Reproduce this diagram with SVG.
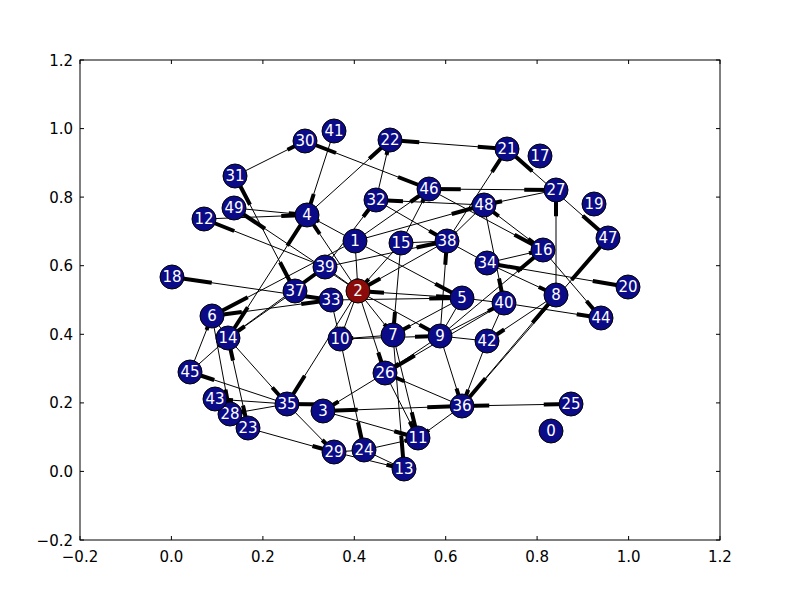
<svg xmlns="http://www.w3.org/2000/svg" width="800" height="600" viewBox="0 0 800 600">
<style>
.e{fill:none;stroke:#000;stroke-width:1}
.a{fill:none;stroke:#000;stroke-width:4;stroke-dasharray:0 3 1}
.n circle{fill:#0b0b88;stroke:#000;stroke-width:1}
.n text{fill:#fff;font-family:"DejaVu Sans",sans-serif;font-size:15px;text-anchor:middle}
.tk{stroke:#000;stroke-width:1}
.lb{font-family:"DejaVu Sans",sans-serif;font-size:15px;fill:#000}
</style>
<rect width="800" height="600" fill="#fff"/>
<rect x="80" y="60" width="640" height="480" fill="#fff" stroke="#000" stroke-width="1"/>
<g class="tk">
<path d="M80 540v-4M171.4 540v-4M262.9 540v-4M354.3 540v-4M445.7 540v-4M537.1 540v-4M628.6 540v-4M720 540v-4M80 60v4M171.4 60v4M262.9 60v4M354.3 60v4M445.7 60v4M537.1 60v4M628.6 60v4M720 60v4"/>
<path d="M80 540h4M80 471.4h4M80 402.9h4M80 334.3h4M80 265.7h4M80 197.1h4M80 128.6h4M80 60h4M720 540h-4M720 471.4h-4M720 402.9h-4M720 334.3h-4M720 265.7h-4M720 197.1h-4M720 128.6h-4M720 60h-4"/>
</g>
<g class="lb" text-anchor="middle">
<text x="80" y="562">−0.2</text><text x="171.4" y="562">0.0</text><text x="262.9" y="562">0.2</text><text x="354.3" y="562">0.4</text><text x="445.7" y="562">0.6</text><text x="537.1" y="562">0.8</text><text x="628.6" y="562">1.0</text><text x="720" y="562">1.2</text>
</g>
<g class="lb" text-anchor="end">
<text x="73" y="545.5">−0.2</text><text x="73" y="476.9">0.0</text><text x="73" y="408.4">0.2</text><text x="73" y="339.8">0.4</text><text x="73" y="271.2">0.6</text><text x="73" y="202.6">0.8</text><text x="73" y="134.1">1.0</text><text x="73" y="65.5">1.2</text>
</g>
<g id="connectors">
<g class="e">
<path d="M235 176L305 141"/><path d="M334 131L307 215"/><path d="M305 141L429 189"/><path d="M390 140L507 149"/><path d="M307 215L390 140"/><path d="M376 200L390 140"/><path d="M447 241L507 149"/><path d="M429 189L556 190"/><path d="M556 190L484 205"/><path d="M556 295L556 190"/><path d="M507 149L608 238"/><path d="M462 406L608 238"/><path d="M440 336L543 250"/><path d="M487 263L628 287"/><path d="M487 263L556 295"/><path d="M543 250L601 318"/><path d="M504 303L601 318"/><path d="M556 295L487 341"/><path d="M462 406L556 295"/><path d="M484 205L504 303"/><path d="M462 298L504 303"/><path d="M504 303L385 373"/><path d="M358 291L462 298"/><path d="M331 300L462 298"/><path d="M358 291L440 336"/><path d="M358 291L385 373"/><path d="M355 241L358 291"/><path d="M325 267L358 291"/><path d="M401 243L358 291"/><path d="M447 241L358 291"/><path d="M331 300L172 277"/><path d="M355 241L212 316"/><path d="M331 300L212 316"/><path d="M212 316L230 414"/><path d="M228 338L248 428"/><path d="M295 291L228 338"/><path d="M295 291L235 176"/><path d="M358 291L234 208"/><path d="M325 267L204 219"/><path d="M234 208L307 215"/><path d="M204 219L307 215"/><path d="M307 215L228 338"/><path d="M190 372L212 316"/><path d="M355 241L307 215"/><path d="M355 241L462 298"/><path d="M358 291L307 215"/><path d="M484 205L376 200"/><path d="M376 200L447 241"/><path d="M325 267L376 200"/><path d="M355 241L429 189"/><path d="M401 243L429 189"/><path d="M355 241L484 205"/><path d="M447 241L487 263"/><path d="M440 336L447 241"/><path d="M401 243L393 335"/><path d="M401 243L447 241"/><path d="M325 267L447 241"/><path d="M331 300L340 339"/><path d="M393 335L340 339"/><path d="M340 339L440 336"/><path d="M462 298L393 335"/><path d="M440 336L462 298"/><path d="M440 336L487 341"/><path d="M440 336L504 303"/><path d="M440 336L462 406"/><path d="M487 341L462 406"/><path d="M571 404L462 406"/><path d="M323 411L462 406"/><path d="M462 406L385 373"/><path d="M462 406L418 438"/><path d="M385 373L323 411"/><path d="M323 411L418 438"/><path d="M340 339L364 450"/><path d="M364 450L418 438"/><path d="M364 450L404 469"/><path d="M334 452L404 469"/><path d="M334 452L364 450"/><path d="M248 428L334 452"/><path d="M287 404L334 452"/><path d="M287 404L230 414"/><path d="M287 404L215 399"/><path d="M287 404L190 372"/><path d="M228 338L287 404"/><path d="M358 291L287 404"/><path d="M393 335L404 469"/><path d="M385 373L418 438"/><path d="M429 189L543 250"/><path d="M484 205L543 250"/><path d="M487 263L543 250"/><path d="M228 338L325 267"/><path d="M212 316L228 338"/><path d="M190 372L228 338"/><path d="M358 291L393 335"/><path d="M358 291L340 339"/><path d="M484 205L447 241"/><path d="M487 341L504 303"/><path d="M393 335L418 438"/><path d="M440 336L385 373"/>
</g>
<g class="a">
<path pathLength="4" d="M235 176L305 141"/><path pathLength="4" d="M334 131L307 215"/><path pathLength="4" d="M305 141L429 189"/><path pathLength="4" d="M429 189L305 141"/><path pathLength="4" d="M390 140L507 149"/><path pathLength="4" d="M507 149L390 140"/><path pathLength="4" d="M307 215L390 140"/><path pathLength="4" d="M376 200L390 140"/><path pathLength="4" d="M447 241L507 149"/><path pathLength="4" d="M429 189L556 190"/><path pathLength="4" d="M556 190L429 189"/><path pathLength="4" d="M556 190L484 205"/><path pathLength="4" d="M556 295L556 190"/><path pathLength="4" d="M507 149L608 238"/><path pathLength="4" d="M608 238L507 149"/><path pathLength="4" d="M462 406L608 238"/><path pathLength="4" d="M440 336L543 250"/><path pathLength="4" d="M487 263L628 287"/><path pathLength="4" d="M628 287L487 263"/><path pathLength="4" d="M487 263L556 295"/><path pathLength="4" d="M543 250L601 318"/><path pathLength="4" d="M504 303L601 318"/><path pathLength="4" d="M556 295L487 341"/><path pathLength="4" d="M462 406L556 295"/><path pathLength="4" d="M556 295L462 406"/><path pathLength="4" d="M484 205L504 303"/><path pathLength="4" d="M462 298L504 303"/><path pathLength="4" d="M504 303L385 373"/><path pathLength="4" d="M358 291L462 298"/><path pathLength="4" d="M462 298L358 291"/><path pathLength="4" d="M331 300L462 298"/><path pathLength="4" d="M358 291L440 336"/><path pathLength="4" d="M358 291L385 373"/><path pathLength="4" d="M355 241L358 291"/><path pathLength="4" d="M325 267L358 291"/><path pathLength="4" d="M401 243L358 291"/><path pathLength="4" d="M447 241L358 291"/><path pathLength="4" d="M331 300L172 277"/><path pathLength="4" d="M172 277L331 300"/><path pathLength="4" d="M355 241L212 316"/><path pathLength="4" d="M331 300L212 316"/><path pathLength="4" d="M212 316L331 300"/><path pathLength="4" d="M212 316L230 414"/><path pathLength="4" d="M228 338L248 428"/><path pathLength="4" d="M248 428L228 338"/><path pathLength="4" d="M295 291L228 338"/><path pathLength="4" d="M295 291L235 176"/><path pathLength="4" d="M235 176L295 291"/><path pathLength="4" d="M358 291L234 208"/><path pathLength="4" d="M325 267L204 219"/><path pathLength="4" d="M234 208L307 215"/><path pathLength="4" d="M204 219L307 215"/><path pathLength="4" d="M307 215L228 338"/><path pathLength="4" d="M228 338L307 215"/><path pathLength="4" d="M190 372L212 316"/><path pathLength="4" d="M355 241L307 215"/><path pathLength="4" d="M355 241L462 298"/><path pathLength="4" d="M358 291L307 215"/><path pathLength="4" d="M484 205L376 200"/><path pathLength="4" d="M376 200L447 241"/><path pathLength="4" d="M325 267L376 200"/><path pathLength="4" d="M355 241L429 189"/><path pathLength="4" d="M401 243L429 189"/><path pathLength="4" d="M355 241L484 205"/><path pathLength="4" d="M447 241L487 263"/><path pathLength="4" d="M440 336L447 241"/><path pathLength="4" d="M401 243L393 335"/><path pathLength="4" d="M401 243L447 241"/><path pathLength="4" d="M325 267L447 241"/><path pathLength="4" d="M331 300L340 339"/><path pathLength="4" d="M393 335L340 339"/><path pathLength="4" d="M340 339L440 336"/><path pathLength="4" d="M462 298L393 335"/><path pathLength="4" d="M440 336L462 298"/><path pathLength="4" d="M440 336L487 341"/><path pathLength="4" d="M440 336L504 303"/><path pathLength="4" d="M440 336L462 406"/><path pathLength="4" d="M487 341L462 406"/><path pathLength="4" d="M571 404L462 406"/><path pathLength="4" d="M462 406L571 404"/><path pathLength="4" d="M323 411L462 406"/><path pathLength="4" d="M462 406L323 411"/><path pathLength="4" d="M462 406L385 373"/><path pathLength="4" d="M462 406L418 438"/><path pathLength="4" d="M385 373L323 411"/><path pathLength="4" d="M323 411L418 438"/><path pathLength="4" d="M340 339L364 450"/><path pathLength="4" d="M364 450L418 438"/><path pathLength="4" d="M364 450L404 469"/><path pathLength="4" d="M334 452L404 469"/><path pathLength="4" d="M334 452L364 450"/><path pathLength="4" d="M248 428L334 452"/><path pathLength="4" d="M287 404L334 452"/><path pathLength="4" d="M287 404L230 414"/><path pathLength="4" d="M287 404L215 399"/><path pathLength="4" d="M287 404L190 372"/><path pathLength="4" d="M228 338L287 404"/><path pathLength="4" d="M358 291L287 404"/><path pathLength="4" d="M462 406L287 404"/><path pathLength="4" d="M393 335L404 469"/><path pathLength="4" d="M385 373L418 438"/><path pathLength="4" d="M429 189L543 250"/><path pathLength="4" d="M484 205L543 250"/><path pathLength="4" d="M543 250L484 205"/><path pathLength="4" d="M487 263L543 250"/><path pathLength="4" d="M228 338L325 267"/><path pathLength="4" d="M212 316L228 338"/><path pathLength="4" d="M190 372L228 338"/><path pathLength="4" d="M358 291L393 335"/><path pathLength="4" d="M358 291L340 339"/><path pathLength="4" d="M484 205L447 241"/><path pathLength="4" d="M487 341L504 303"/><path pathLength="4" d="M393 335L418 438"/><path pathLength="4" d="M440 336L385 373"/>
</g>
</g>
<g class="n">
<g id="n0"><circle cx="551" cy="431" r="12"/><text x="551" y="436">0</text></g>
<g id="n1"><circle cx="355" cy="241" r="12"/><text x="355" y="246">1</text></g>
<g id="n2"><circle cx="358" cy="291" r="12" style="fill:#8b0a0a"/><text x="358" y="296">2</text></g>
<g id="n3"><circle cx="323" cy="411" r="12"/><text x="323" y="416">3</text></g>
<g id="n4"><circle cx="307" cy="215" r="12"/><text x="307" y="220">4</text></g>
<g id="n5"><circle cx="462" cy="298" r="12"/><text x="462" y="303">5</text></g>
<g id="n6"><circle cx="212" cy="316" r="12"/><text x="212" y="321">6</text></g>
<g id="n7"><circle cx="393" cy="335" r="12"/><text x="393" y="340">7</text></g>
<g id="n8"><circle cx="556" cy="295" r="12"/><text x="556" y="300">8</text></g>
<g id="n9"><circle cx="440" cy="336" r="12"/><text x="440" y="341">9</text></g>
<g id="n10"><circle cx="340" cy="339" r="12"/><text x="340" y="344">10</text></g>
<g id="n11"><circle cx="418" cy="438" r="12"/><text x="418" y="443">11</text></g>
<g id="n12"><circle cx="204" cy="219" r="12"/><text x="204" y="224">12</text></g>
<g id="n13"><circle cx="404" cy="469" r="12"/><text x="404" y="474">13</text></g>
<g id="n14"><circle cx="228" cy="338" r="12"/><text x="228" y="343">14</text></g>
<g id="n15"><circle cx="401" cy="243" r="12"/><text x="401" y="248">15</text></g>
<g id="n16"><circle cx="543" cy="250" r="12"/><text x="543" y="255">16</text></g>
<g id="n17"><circle cx="540" cy="156" r="12"/><text x="540" y="161">17</text></g>
<g id="n18"><circle cx="172" cy="277" r="12"/><text x="172" y="282">18</text></g>
<g id="n19"><circle cx="594" cy="204" r="12"/><text x="594" y="209">19</text></g>
<g id="n20"><circle cx="628" cy="287" r="12"/><text x="628" y="292">20</text></g>
<g id="n21"><circle cx="507" cy="149" r="12"/><text x="507" y="154">21</text></g>
<g id="n22"><circle cx="390" cy="140" r="12"/><text x="390" y="145">22</text></g>
<g id="n23"><circle cx="248" cy="428" r="12"/><text x="248" y="433">23</text></g>
<g id="n24"><circle cx="364" cy="450" r="12"/><text x="364" y="455">24</text></g>
<g id="n25"><circle cx="571" cy="404" r="12"/><text x="571" y="409">25</text></g>
<g id="n26"><circle cx="385" cy="373" r="12"/><text x="385" y="378">26</text></g>
<g id="n27"><circle cx="556" cy="190" r="12"/><text x="556" y="195">27</text></g>
<g id="n28"><circle cx="230" cy="414" r="12"/><text x="230" y="419">28</text></g>
<g id="n29"><circle cx="334" cy="452" r="12"/><text x="334" y="457">29</text></g>
<g id="n30"><circle cx="305" cy="141" r="12"/><text x="305" y="146">30</text></g>
<g id="n31"><circle cx="235" cy="176" r="12"/><text x="235" y="181">31</text></g>
<g id="n32"><circle cx="376" cy="200" r="12"/><text x="376" y="205">32</text></g>
<g id="n33"><circle cx="331" cy="300" r="12"/><text x="331" y="305">33</text></g>
<g id="n34"><circle cx="487" cy="263" r="12"/><text x="487" y="268">34</text></g>
<g id="n35"><circle cx="287" cy="404" r="12"/><text x="287" y="409">35</text></g>
<g id="n36"><circle cx="462" cy="406" r="12"/><text x="462" y="411">36</text></g>
<g id="n37"><circle cx="295" cy="291" r="12"/><text x="295" y="296">37</text></g>
<g id="n38"><circle cx="447" cy="241" r="12"/><text x="447" y="246">38</text></g>
<g id="n39"><circle cx="325" cy="267" r="12"/><text x="325" y="272">39</text></g>
<g id="n40"><circle cx="504" cy="303" r="12"/><text x="504" y="308">40</text></g>
<g id="n41"><circle cx="334" cy="131" r="12"/><text x="334" y="136">41</text></g>
<g id="n42"><circle cx="487" cy="341" r="12"/><text x="487" y="346">42</text></g>
<g id="n43"><circle cx="215" cy="399" r="12"/><text x="215" y="404">43</text></g>
<g id="n44"><circle cx="601" cy="318" r="12"/><text x="601" y="323">44</text></g>
<g id="n45"><circle cx="190" cy="372" r="12"/><text x="190" y="377">45</text></g>
<g id="n46"><circle cx="429" cy="189" r="12"/><text x="429" y="194">46</text></g>
<g id="n47"><circle cx="608" cy="238" r="12"/><text x="608" y="243">47</text></g>
<g id="n48"><circle cx="484" cy="205" r="12"/><text x="484" y="210">48</text></g>
<g id="n49"><circle cx="234" cy="208" r="12"/><text x="234" y="213">49</text></g>
</g>
</svg>
